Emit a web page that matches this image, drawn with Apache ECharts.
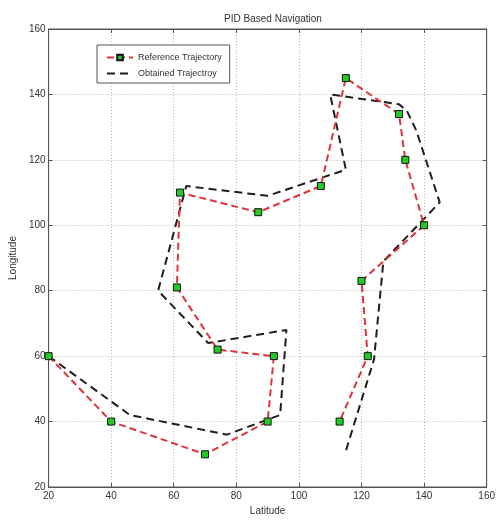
<!DOCTYPE html>
<html><head><meta charset="utf-8">
<script src="https://cdn.jsdelivr.net/npm/echarts@6/dist/echarts.min.js"></script>
<style>html,body{margin:0;padding:0;background:#fff}#c{width:498px;height:521px}</style>
</head><body><div id="c"></div>
<script>
const titleText = 'PID Based Navigation';
const xName = 'Latitude';
const yName = 'Longitude';
const seriesNames = ['Reference Trajectory', 'Obtained Trajectroy'];
const refLat = [20, 40, 70, 90, 92, 74, 61, 62, 87, 107, 115, 132, 134, 140, 120, 122, 113];
const refLon = [60, 40, 30, 40, 60, 62, 81, 110, 104, 112, 145, 134, 120, 100, 83, 60, 40];
const obsLat = [20, 46, 77, 94, 96, 71, 55, 64, 90, 115, 110, 132, 134.5, 137.5, 145, 127, 124, 115];
const obsLon = [60, 42, 36, 42, 68, 64, 80, 112, 109, 117, 140, 137, 135, 129, 107, 89, 59, 31];
const ticks = [20, 40, 60, 80, 100, 120, 140, 160];

const zip = (a, b) => a.map((v, i) => [v, b[i]]);
const font = "'Liberation Sans',Arial,sans-serif";
const chart = echarts.init(document.getElementById('c'), null, {renderer: 'canvas'});
const axisCommon = {
  type: 'value', min: ticks[0], max: ticks[ticks.length - 1], interval: 20,
  axisLine: {show: true, onZero: false, lineStyle: {color: '#555', width: 1}},
  axisTick: {show: true, inside: true, length: 4, lineStyle: {color: '#555'}},
};
chart.setOption({
  animation: false,
  backgroundColor: '#fff',
  title: {text: titleText, left: 268, top: 9, textAlign: 'center',
    textStyle: {fontSize: 10, fontWeight: 'normal', color: '#333', fontFamily: font}},
  grid: {left: 45, right: 6, top: 29, bottom: 29, show: true, borderColor: '#555', borderWidth: 1},
  legend: {
    orient: 'vertical', left: 97, top: 45, itemWidth: 26, itemHeight: 7, itemGap: 7,
    padding: [8, 8, 5, 9], borderColor: '#555', borderWidth: 1, backgroundColor: '#fff',
    textStyle: {fontSize: 9, color: '#333', fontFamily: font},
    data: [{name: seriesNames[0]}, {name: seriesNames[1], itemStyle: {opacity: 0}}]
  },
  xAxis: [
    Object.assign({}, axisCommon, {position: 'bottom', name: xName, nameLocation: 'middle', nameGap: 19,
      nameTextStyle: {fontSize: 10, color: '#333', fontFamily: font},
      axisLabel: {fontSize: 10, color: '#333', margin: 4, fontFamily: font},
      splitLine: {show: true, lineStyle: {color: '#bbb', type: [1, 2], width: 1}}}),
    Object.assign({}, axisCommon, {position: 'top', axisLabel: {show: false}, splitLine: {show: false}})
  ],
  yAxis: [
    Object.assign({}, axisCommon, {position: 'left', name: yName, nameLocation: 'middle', nameGap: 25,
      nameTextStyle: {fontSize: 10, color: '#333', fontFamily: font},
      axisLabel: {fontSize: 10, color: '#333', margin: 3, fontFamily: font},
      splitLine: {show: true, lineStyle: {color: '#bbb', type: [1, 2], width: 1}}}),
    Object.assign({}, axisCommon, {position: 'right', axisLabel: {show: false}, splitLine: {show: false}})
  ],
  series: [
    {name: seriesNames[1], type: 'line', data: zip(obsLat, obsLon), symbol: 'none',
      lineStyle: {color: '#1e1e1e', width: 2, type: [8, 5]}, itemStyle: {color: '#1e1e1e'}, z: 2},
    {name: seriesNames[0], type: 'line', data: zip(refLat, refLon), symbol: 'rect', symbolSize: 7,
      lineStyle: {color: '#e0343c', width: 2, type: [7, 4]},
      itemStyle: {color: '#22cc22', borderColor: '#111', borderWidth: 1}, z: 3}
  ]
});
</script></body></html>
